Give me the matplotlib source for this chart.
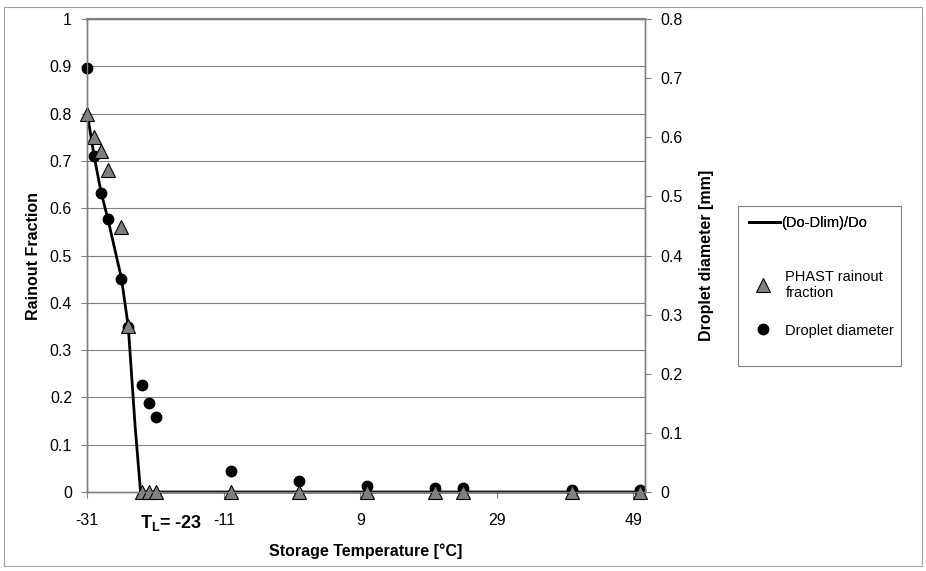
import matplotlib
matplotlib.use("Agg")
import matplotlib.pyplot as plt
from matplotlib.patches import Rectangle

plt.rcParams["font.family"] = ["Liberation Sans", "DejaVu Sans"]
plt.rcParams["mathtext.fontset"] = "custom"
plt.rcParams["mathtext.rm"] = "Liberation Sans"
plt.rcParams["mathtext.bf"] = "Liberation Sans:bold"
plt.rcParams["axes.unicode_minus"] = False

# storage temperatures [C]
temps = [-31, -30, -29, -28, -26, -25, -23, -22, -21, -10, 0, 10, 20, 24, 40, 50]
# PHAST rainout fraction
phast = [0.80, 0.75, 0.72, 0.68, 0.56, 0.35, 0, 0, 0, 0, 0, 0, 0, 0, 0, 0]
# droplet diameter [mm]
droplet = [0.717, 0.569, 0.505, 0.462, 0.361, 0.279, 0.181, 0.150, 0.127,
           0.0355, 0.0186, 0.010, 0.0075, 0.006, 0.004, 0.003]
# (Do-Dlim)/Do curve
line_t = [-31, -30, -29, -28, -26, -25, -24, -23.2, -22, -21, -10, 0, 10, 20, 24, 40, 50]
line_v = [0.80, 0.71, 0.635, 0.578, 0.452, 0.35, 0.14, 0, 0, 0, 0, 0, 0, 0, 0, 0, 0]

xticks = [-31, -11, 9, 29, 49]

fig = plt.figure(figsize=(9.26, 5.71), dpi=100)
fig.patches.append(Rectangle((4 / 926, 1 - 566 / 571), 918 / 926, 559 / 571,
                             transform=fig.transFigure, fill=False,
                             edgecolor="#a0a0a0", linewidth=0.8))

ax = fig.add_axes([87.3 / 926, 1 - 492 / 571, 557.7 / 926, 473 / 571])
ax2 = ax.twinx()

grey = "#808080"
ax.set_xlim(-31, 50.7)
ax.set_ylim(0, 1)
ax2.set_ylim(0, 0.8)
ax.set_xticks(xticks)
ax.set_yticks([i / 10 for i in range(11)])
ax.set_yticklabels(["0", "0.1", "0.2", "0.3", "0.4", "0.5", "0.6", "0.7", "0.8", "0.9", "1"])
ax2.set_yticks([i / 10 for i in range(9)])
ax2.set_yticklabels(["0", "0.1", "0.2", "0.3", "0.4", "0.5", "0.6", "0.7", "0.8"])
ax.grid(axis="y", color=grey, linewidth=0.8, zorder=0)
ax.set_axisbelow(True)

for a in (ax, ax2):
    for s in a.spines.values():
        s.set_color(grey)
        s.set_linewidth(1.0)
        s.set_zorder(0.6)
    a.tick_params(colors=grey, labelcolor="black", labelsize=11.5, length=4, width=0.8)
ax.spines["top"].set_linewidth(1.6)
ax.tick_params(axis="x", pad=11)
ax.tick_params(axis="y", pad=7)
ax2.tick_params(axis="y", pad=7)

ln, = ax.plot(line_t, line_v, color="black", linewidth=2, zorder=3,
              clip_on=False, label="(Do-Dlim)/Do")
# droplets go on the main axes but use the secondary axis scale,
# so the triangles can sit on top of them
dot, = ax.plot(temps, droplet, linestyle="none", marker="o", markersize=7.5,
               color="black", zorder=3.5, clip_on=False,
               transform=ax2.transData, label="Droplet diameter")
tri, = ax.plot(temps, phast, linestyle="none", marker="^", markersize=10,
               markerfacecolor=grey, markeredgecolor="black", markeredgewidth=0.8,
               zorder=4, clip_on=False, label="PHAST rainout\nfraction")

ax.text(-23.3, -0.045, r"$\mathbf{T_L}$= -23", fontsize=13, fontweight="bold",
        ha="left", va="top")

ax.set_xlabel("Storage Temperature [°C]", fontsize=11.5, fontweight="bold", labelpad=11)
ax.set_ylabel("Rainout Fraction", fontsize=11.5, fontweight="bold", labelpad=6)
ax2.set_ylabel("Droplet diameter [mm]", fontsize=11.5, fontweight="bold", labelpad=12)

# legend box drawn on its own, entries placed in two groups
fig.patches.append(Rectangle((738 / 926, 1 - 366 / 571), 163 / 926, 160 / 571,
                             transform=fig.transFigure, fill=False,
                             edgecolor=grey, linewidth=0.8))
leg1 = fig.legend(handles=[ln], loc="center left",
                  bbox_to_anchor=(749 / 926, 1 - 223 / 571), fontsize=10.5,
                  frameon=False, handlelength=2.1, handletextpad=0.1,
                  borderpad=0, borderaxespad=0)
leg2 = fig.legend(handles=[tri, dot], loc="upper left",
                  bbox_to_anchor=(746 / 926, 1 - 270 / 571), fontsize=10.5,
                  frameon=False, handlelength=2.3, handletextpad=0.4,
                  labelspacing=1.6, borderpad=0, borderaxespad=0)
fig.add_artist(leg1)

fig.savefig("out.png", dpi=100)
